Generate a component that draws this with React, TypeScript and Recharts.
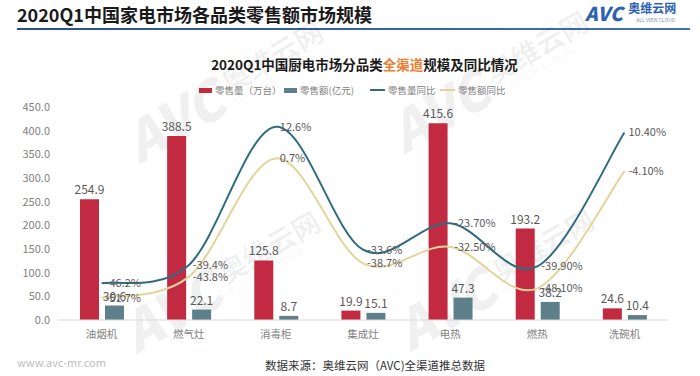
import React from "react";
import {
  ComposedChart,
  Bar,
  Line,
  XAxis,
  YAxis,
  LabelList,
} from "recharts";

const categories = ["油烟机", "燃气灶", "消毒柜", "集成灶", "电热", "燃热", "洗碗机"];
const salesVolume = [254.9, 388.5, 125.8, 19.9, 415.6, 193.2, 24.6];
const salesValue = [30.6, 22.1, 8.7, 15.1, 47.3, 38.2, 10.4];
const volumeYoY = [-46.2, -39.4, 12.6, -33.6, -23.7, -39.9, 10.4];
const valueYoY = [-51.7, -43.8, 0.7, -38.7, -32.5, -48.1, -4.1];
const yoyDigits = [1, 1, 1, 1, 2, 2, 2];
const leftTicks = [0, 50, 100, 150, 200, 250, 300, 350, 400, 450];

const data = categories.map((name, i) => ({
  name,
  volume: salesVolume[i],
  value: salesValue[i],
  volumeYoY: volumeYoY[i],
  valueYoY: valueYoY[i],
  digits: yoyDigits[i],
}));

const FONT = "'Noto Sans CJK SC', 'Noto Sans', sans-serif";
const RED = "#c12a41";
const SLATE = "#5e808a";
const TEAL = "#2f6c7f";
const SAND = "#e3d49c";

// excel style smoothing (catmull-rom, tension 1/6)
const excelSmooth = (context: any) => {
  let pts: number[][] = [];
  return {
    areaStart() {},
    areaEnd() {},
    lineStart() {
      pts = [];
    },
    point(x: number, y: number) {
      pts.push([+x, +y]);
    },
    lineEnd() {
      if (!pts.length) return;
      context.moveTo(pts[0][0], pts[0][1]);
      for (let i = 0; i < pts.length - 1; i++) {
        const p0 = pts[Math.max(i - 1, 0)];
        const p1 = pts[i];
        const p2 = pts[i + 1];
        const p3 = pts[Math.min(i + 2, pts.length - 1)];
        context.bezierCurveTo(
          p1[0] + (p2[0] - p0[0]) / 6,
          p1[1] + (p2[1] - p0[1]) / 6,
          p2[0] - (p3[0] - p1[0]) / 6,
          p2[1] - (p3[1] - p1[1]) / 6,
          p2[0],
          p2[1]
        );
      }
    },
  };
};

const pctLabel = (key: string) => (props: any) => {
  const { x, y, index } = props;
  const v = data[index][key as "volumeYoY"];
  return (
    <text
      x={x + 4}
      y={y}
      dy="0.35em"
      fontSize={11}
      fill="#595959"
      fontFamily={FONT}
    >
      {v.toFixed(data[index].digits) + "%"}
    </text>
  );
};

const Watermark = ({ x, y }: { x: number; y: number }) => (
  <div
    style={{
      position: "absolute",
      left: x,
      top: y,
      transform: "translate(-50%, -50%) rotate(-30deg)",
      display: "flex",
      alignItems: "center",
      color: "rgba(0,0,0,0.06)",
      fontFamily: FONT,
      whiteSpace: "nowrap",
      pointerEvents: "none",
    }}
  >
    <span style={{ fontSize: 54, fontWeight: 900, fontStyle: "italic" }}>AVC</span>
    <span style={{ display: "flex", flexDirection: "column", marginLeft: 8 }}>
      <span style={{ fontSize: 28, fontWeight: 700, lineHeight: "32px" }}>奥维云网</span>
      <span style={{ fontSize: 9, letterSpacing: 1, lineHeight: "10px" }}>ALL VIEW CLOUD</span>
    </span>
  </div>
);

const legendItems = [
  { label: "零售量（万台）", color: RED, kind: "rect", x: 199 },
  { label: "零售额(亿元)", color: SLATE, kind: "rect", x: 284 },
  { label: "零售量同比", color: TEAL, kind: "line", x: 370 },
  { label: "零售额同比", color: SAND, kind: "line", x: 440 },
];

export default function App() {
  return (
    <div
      style={{
        position: "absolute",
        left: 0,
        top: 0,
        width: 700,
        height: 376,
        background: "#fff",
        overflow: "hidden",
        fontFamily: FONT,
      }}
    >
      <div
        style={{
          position: "absolute",
          left: 17,
          top: 1,
          fontSize: 18,
          fontWeight: 700,
          color: "#1a1a1a",
          whiteSpace: "nowrap",
        }}
      >
        2020Q1中国家电市场各品类零售额市场规模
      </div>
      <div
        style={{
          position: "absolute",
          left: 17,
          top: 28,
          width: 673,
          height: 2,
          background: "linear-gradient(to right, #2b4f86, #3f73b8)",
        }}
      />
      <div
        style={{
          position: "absolute",
          left: 585,
          top: 2,
          display: "flex",
          alignItems: "center",
          color: "#2d62b0",
          whiteSpace: "nowrap",
        }}
      >
        <span
          style={{
            fontSize: 19,
            lineHeight: "20px",
            fontWeight: 900,
            fontStyle: "italic",
            letterSpacing: 0.5,
          }}
        >
          AVC
        </span>
        <span style={{ display: "flex", flexDirection: "column", marginLeft: 5 }}>
          <span style={{ fontSize: 12, lineHeight: "12px", fontWeight: 700 }}>奥维云网</span>
          <span
            style={{
              fontSize: 5,
              lineHeight: "6px",
              color: "#7f8fa8",
              marginTop: 3,
              marginLeft: 8,
            }}
          >
            ALL VIEW CLOUD
          </span>
        </span>
      </div>

      <Watermark x={225} y={88} />
      <Watermark x={490} y={78} />
      <Watermark x={222} y={278} />
      <Watermark x={496} y={276} />

      <div
        style={{
          position: "absolute",
          left: 0,
          width: 729,
          top: 54,
          textAlign: "center",
          fontSize: 13.5,
          fontWeight: 700,
          color: "#1a1a1a",
          whiteSpace: "nowrap",
        }}
      >
        2020Q1中国厨电市场分品类<span style={{ color: "#ee7d31" }}>全渠道</span>
        规模及同比情况
      </div>

      {legendItems.map((it) => (
        <div
          key={it.label}
          style={{
            position: "absolute",
            left: it.x,
            top: 84,
            display: "flex",
            alignItems: "center",
            fontSize: 9.5,
            lineHeight: "12px",
            color: "#808080",
            whiteSpace: "nowrap",
          }}
        >
          <span
            style={{
              display: "inline-block",
              width: it.kind === "rect" ? 13 : 15,
              height: it.kind === "rect" ? 5 : 2,
              background: it.color,
              marginRight: 3,
            }}
          />
          {it.label}
        </div>
      ))}

      <div style={{ position: "absolute", left: 0, top: 0 }}>
        <ComposedChart
          width={700}
          height={376}
          data={data}
          margin={{ top: 107, right: 32, bottom: 26, left: 0 }}
          barSize={19}
          barGap={6}
        >
          <XAxis
            dataKey="name"
            height={30}
            tickLine={false}
            axisLine={{ stroke: "#d9d9d9" }}
            tickMargin={5}
            tick={{ fontSize: 10.5, fill: "#7f7f7f", fontFamily: FONT }}
          />
          <YAxis
            yAxisId="left"
            width={58}
            domain={[0, 450]}
            ticks={leftTicks}
            tickFormatter={(v: number) => v.toFixed(1)}
            axisLine={false}
            tickLine={false}
            tick={{ fontSize: 11, fill: "#7f7f7f", fontFamily: FONT }}
          />
          <YAxis yAxisId="pct" orientation="right" hide domain={[-60, 20]} />
          <Bar yAxisId="left" dataKey="volume" fill={RED} isAnimationActive={false}>
            <LabelList
              dataKey="volume"
              position="top"
              offset={5}
              formatter={(v: number) => v.toFixed(1)}
              style={{ fontSize: 12, fill: "#595959", fontFamily: FONT }}
            />
          </Bar>
          <Bar yAxisId="left" dataKey="value" fill={SLATE} isAnimationActive={false}>
            <LabelList
              dataKey="value"
              position="top"
              offset={5}
              formatter={(v: number) => v.toFixed(1)}
              style={{ fontSize: 12, fill: "#595959", fontFamily: FONT }}
            />
          </Bar>
          <Line
            yAxisId="pct"
            dataKey="valueYoY"
            type={excelSmooth as any}
            stroke={SAND}
            strokeWidth={2}
            dot={false}
            activeDot={false}
            isAnimationActive={false}
          >
            <LabelList dataKey="valueYoY" content={pctLabel("valueYoY")} />
          </Line>
          <Line
            yAxisId="pct"
            dataKey="volumeYoY"
            type={excelSmooth as any}
            stroke={TEAL}
            strokeWidth={2}
            dot={false}
            activeDot={false}
            isAnimationActive={false}
          >
            <LabelList dataKey="volumeYoY" content={pctLabel("volumeYoY")} />
          </Line>
        </ComposedChart>
      </div>

      <div
        style={{
          position: "absolute",
          left: 17,
          top: 354,
          fontSize: 11,
          color: "#bdbdbd",
          whiteSpace: "nowrap",
        }}
      >
        www.avc-mr.com
      </div>
      <div
        style={{
          position: "absolute",
          left: 265,
          top: 357,
          fontSize: 11.5,
          color: "#333",
          whiteSpace: "nowrap",
        }}
      >
        数据来源：奥维云网（AVC)全渠道推总数据
      </div>
    </div>
  );
}
